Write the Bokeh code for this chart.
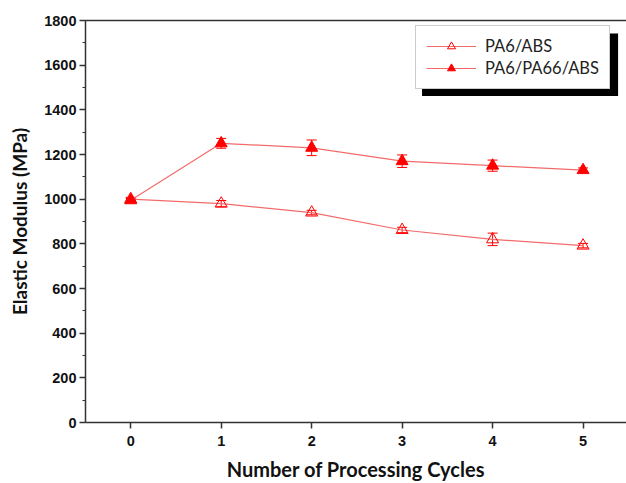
from bokeh.plotting import figure
from bokeh.models import (ColumnDataSource, Whisker, TeeHead, Legend, LegendItem,
                          LinearAxis, FixedTicker, BoxAnnotation, Range1d)
from bokeh.embed import file_html
from bokeh.resources import INLINE

cycles = [0, 1, 2, 3, 4, 5]
pa6_abs = [1000, 980, 940, 862, 820, 792]
pa6_abs_err = [8, 14, 10, 12, 28, 10]
pa6_pa66_abs = [995, 1250, 1230, 1170, 1150, 1130]
pa6_pa66_abs_err = [8, 22, 35, 28, 25, 10]
series_names = ["PA6/ABS", "PA6/PA66/ABS"]
y_ticks = [0, 200, 400, 600, 800, 1000, 1200, 1400, 1600, 1800]

RED = "#ff0000"
LINE = "#f26b6b"
AX = "#333333"

p = figure(width=626, height=483, output_backend="svg", toolbar_location=None,
           x_range=Range1d(-0.5, 5.48), y_range=Range1d(0, 1800),
           min_border_left=85, min_border_right=0, min_border_top=20, min_border_bottom=0)
p.outline_line_color = None
p.grid.visible = False
p.background_fill_color = "white"
p.border_fill_color = "white"

def src(vals, errs):
    return ColumnDataSource(dict(x=cycles, y=vals,
                                 lo=[v - e for v, e in zip(vals, errs)],
                                 hi=[v + e for v, e in zip(vals, errs)]))

s1 = src(pa6_abs, pa6_abs_err)
s2 = src(pa6_pa66_abs, pa6_pa66_abs_err)

for s in (s1, s2):
    w = Whisker(source=s, base="x", upper="hi", lower="lo", line_color=RED, line_width=1,
                upper_head=TeeHead(size=10, line_color=RED, line_width=1),
                lower_head=TeeHead(size=10, line_color=RED, line_width=1))
    p.add_layout(w)

l1 = p.line("x", "y", source=s1, line_color=LINE, line_width=1.2)
m1 = p.scatter("x", "y", source=s1, marker="triangle", size=12, fill_color="white",
               fill_alpha=0.0, line_color=RED, line_width=1)
l2 = p.line("x", "y", source=s2, line_color=LINE, line_width=1.2)
m2 = p.scatter("x", "y", source=s2, marker="triangle", size=12, fill_color=RED,
               line_color=RED, line_width=1)

# legend drop shadow
shadow = BoxAnnotation(left=3.22, right=5.387, top=1742, bottom=1462,
                       fill_color="black", fill_alpha=1, line_color=None)
p.add_layout(shadow)

legend = Legend(items=[LegendItem(label=series_names[0], renderers=[l1, m1]),
                       LegendItem(label=series_names[1], renderers=[l2, m2])],
                location=(330, 333), orientation="vertical",
                label_text_font="Lato", label_text_font_size="16.5px",
                label_text_color="#222222", glyph_width=50, glyph_height=20,
                spacing=2, padding=10, margin=0, label_standoff=9,
                border_line_color="#999999", border_line_width=1,
                background_fill_color="white", background_fill_alpha=1)
p.add_layout(legend, "center")

xa = p.xaxis[0]
xa.ticker = FixedTicker(ticks=cycles)
xa.axis_label = "Number of Processing Cycles"
xa.axis_label_text_font = "Lato"
xa.axis_label_text_font_style = "bold"
xa.axis_label_text_font_size = "20px"
xa.axis_label_standoff = 8
xa.major_label_text_font = "Liberation Sans"
xa.major_label_text_font_style = "bold"
xa.major_label_text_font_size = "14.5px"
xa.major_label_standoff = 7
xa.major_tick_out = 6
xa.major_tick_in = 0
xa.minor_tick_out = 0
xa.minor_tick_in = 0
xa.axis_line_width = 1.5
xa.axis_line_color = AX
xa.major_tick_line_color = AX
xa.major_tick_line_width = 1.5
xa.major_label_text_color = "#111111"
xa.axis_label_text_color = "#111111"

ya = p.yaxis[0]
ya.ticker = FixedTicker(ticks=y_ticks, minor_ticks=list(range(0, 1801, 100)))
ya.axis_label = "Elastic Modulus (MPa)"
ya.axis_label_text_font = "Lato"
ya.axis_label_text_font_style = "bold"
ya.axis_label_text_font_size = "19px"
ya.axis_label_standoff = 10
ya.major_label_text_font = "Liberation Sans"
ya.major_label_text_font_style = "bold"
ya.major_label_text_font_size = "14.5px"
ya.major_label_standoff = 3
ya.major_tick_out = 6
ya.major_tick_in = 0
ya.minor_tick_out = 3
ya.minor_tick_in = 0
ya.axis_line_width = 1.5
ya.axis_line_color = AX
ya.major_tick_line_color = AX
ya.major_tick_line_width = 1.5
ya.minor_tick_line_color = AX
ya.minor_tick_line_width = 1.2
ya.major_label_text_color = "#111111"
ya.axis_label_text_color = "#111111"

top = LinearAxis(ticker=FixedTicker(ticks=[]), major_label_text_font_size="0px",
                 major_tick_out=0, major_tick_in=0, minor_tick_out=0, minor_tick_in=0,
                 axis_line_width=1.5, axis_line_color=AX)
p.add_layout(top, "above")

open("out.html", "w").write(file_html(p, INLINE))
